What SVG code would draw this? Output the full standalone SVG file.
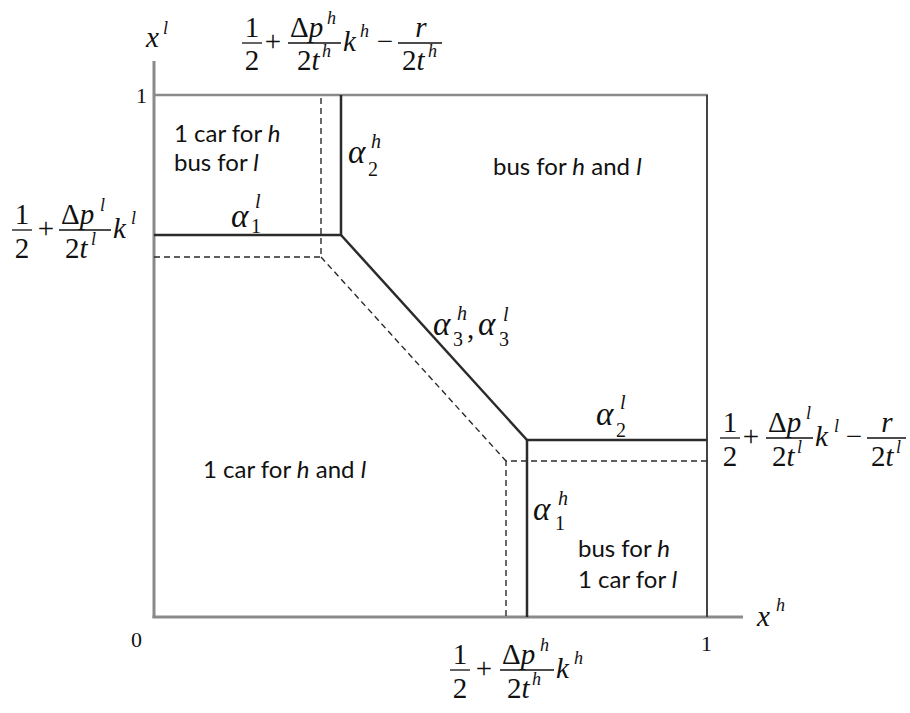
<svg xmlns="http://www.w3.org/2000/svg" width="910" height="713" viewBox="0 0 910 713">
<style>
.ax{stroke:#8a8a8a;stroke-width:3;fill:none}
.bx{stroke:#444;stroke-width:2;fill:none}
.bt{stroke:#8a8a8a;stroke-width:2.5;fill:none}
.sol{stroke:#2b2b2b;stroke-width:2.5;fill:none}
.dsh{stroke:#2b2b2b;stroke-width:1.4;stroke-dasharray:6 4;fill:none}
.fb{stroke:#111;stroke-width:1.3}
.m{font-family:"Liberation Serif","Times New Roman",serif;font-size:29px;fill:#111}
.n{font-family:"Liberation Serif","Times New Roman",serif;font-size:22px;fill:#111}
.i{font-style:italic}
.s{font-size:18px}
.a{font-family:"Liberation Serif","Times New Roman",serif;font-style:italic;font-size:33px;fill:#111}
.as{font-family:"Liberation Serif","Times New Roman",serif;font-size:20px;fill:#111}
.t{font-family:Lato,"Liberation Sans",sans-serif;font-size:24px;fill:#111}
.c{text-anchor:middle}
</style>
<rect width="910" height="713" fill="#fff"/>
<g id="axes">
<line class="ax" x1="154" y1="61" x2="154" y2="618"/>
<line class="ax" x1="152.5" y1="617" x2="743" y2="617"/>
<line class="bt" x1="154" y1="95" x2="708" y2="95"/>
<line class="bx" x1="707" y1="95" x2="707" y2="617"/>
</g>
<g id="connectors">
<polyline class="sol" points="154,235 341,235 341,95"/>
<line class="sol" x1="341" y1="235" x2="527" y2="440"/>
<polyline class="sol" points="707,440 527,440 527,617"/>
<polyline class="dsh" points="154,257 321,257 321,95"/>
<line class="dsh" x1="321" y1="257" x2="506" y2="461"/>
<polyline class="dsh" points="707,461 506,461 506,617"/>
</g>
<g id="axis-labels">
<text class="m i" x="146" y="47">x</text><text class="m i s" x="163" y="34">l</text>
<text class="m i" x="757" y="626">x</text><text class="m i s" x="776" y="611">h</text>
<text class="n" x="136" y="103">1</text>
<text class="n" x="131" y="647">0</text>
<text class="n" x="701" y="651">1</text>
</g>
<g id="region-top-left">
<text class="t" x="174" y="142">1 car for <tspan font-style="italic">h</tspan></text>
<text class="t" x="174" y="171">bus for <tspan font-style="italic">l</tspan></text>
</g>
<g id="region-top-right">
<text class="t" x="493" y="175">bus for <tspan font-style="italic">h</tspan> and <tspan font-style="italic">l</tspan></text>
</g>
<g id="region-bottom-left">
<text class="t" x="203" y="478">1 car for <tspan font-style="italic">h</tspan> and <tspan font-style="italic">l</tspan></text>
</g>
<g id="region-bottom-right">
<text class="t" x="578" y="557">bus for <tspan font-style="italic">h</tspan></text>
<text class="t" x="578" y="588">1 car for <tspan font-style="italic">l</tspan></text>
</g>
<g id="alpha-1-l"><text class="a" x="231" y="227">α</text><text class="as i" x="255" y="208">l</text><text class="as" x="251" y="233">1</text></g>
<g id="alpha-2-h"><text class="a" x="348" y="163">α</text><text class="as i" x="371" y="148">h</text><text class="as" x="368" y="176">2</text></g>
<g id="alpha-3"><text class="a" x="433" y="335">α</text><text class="as i" x="457" y="320">h</text><text class="as" x="453" y="346">3</text><text class="m" x="467" y="338">,</text><text class="a" x="478" y="335">α</text><text class="as i" x="503" y="321">l</text><text class="as" x="499" y="346">3</text></g>
<g id="alpha-2-l"><text class="a" x="596" y="425">α</text><text class="as i" x="620" y="409">l</text><text class="as" x="616" y="437">2</text></g>
<g id="alpha-1-h"><text class="a" x="533" y="520">α</text><text class="as i" x="558" y="505">h</text><text class="as" x="555" y="530">1</text></g>
<g id="formula-top">
<text class="m c" x="252" y="37">1</text><line class="fb" x1="242" y1="43" x2="262" y2="43"/><text class="m c" x="252" y="70">2</text>
<text class="m c" x="273" y="51">+</text>
<text class="m" x="290" y="37">Δ<tspan class="i">p</tspan></text><text class="m i s" x="327" y="24">h</text>
<line class="fb" x1="288" y1="43" x2="341" y2="43"/>
<text class="m" x="297" y="70">2<tspan class="i">t</tspan></text><text class="m i s" x="322" y="57">h</text>
<text class="m i" x="343" y="51">k</text><text class="m i s" x="360" y="37">h</text>
<text class="m c" x="385" y="51">−</text>
<text class="m i c" x="421" y="37">r</text><line class="fb" x1="398" y1="43" x2="442" y2="43"/>
<text class="m" x="402" y="70">2<tspan class="i">t</tspan></text><text class="m i s" x="428" y="57">h</text>
</g>
<g id="formula-left">
<text class="m c" x="22" y="224">1</text><line class="fb" x1="12" y1="230" x2="32" y2="230"/><text class="m c" x="22" y="258">2</text>
<text class="m c" x="46" y="238">+</text>
<text class="m" x="61" y="224">Δ<tspan class="i">p</tspan></text><text class="m i s" x="100" y="211">l</text>
<line class="fb" x1="59" y1="230" x2="111" y2="230"/>
<text class="m" x="65" y="258">2<tspan class="i">t</tspan></text><text class="m i s" x="91" y="245">l</text>
<text class="m i" x="113" y="238">k</text><text class="m i s" x="131" y="224">l</text>
</g>
<g id="formula-right">
<text class="m c" x="730" y="432">1</text><line class="fb" x1="720" y1="438" x2="740" y2="438"/><text class="m c" x="730" y="466">2</text>
<text class="m c" x="751" y="446">+</text>
<text class="m" x="768" y="432">Δ<tspan class="i">p</tspan></text><text class="m i s" x="806" y="419">l</text>
<line class="fb" x1="766" y1="438" x2="813" y2="438"/>
<text class="m" x="772" y="466">2<tspan class="i">t</tspan></text><text class="m i s" x="797" y="453">l</text>
<text class="m i" x="815" y="446">k</text><text class="m i s" x="834" y="432">l</text>
<text class="m c" x="854" y="446">−</text>
<text class="m i c" x="887" y="432">r</text><line class="fb" x1="867" y1="438" x2="906" y2="438"/>
<text class="m" x="871" y="466">2<tspan class="i">t</tspan></text><text class="m i s" x="896" y="453">l</text>
</g>
<g id="formula-bottom">
<text class="m c" x="460" y="664">1</text><line class="fb" x1="450" y1="670" x2="470" y2="670"/><text class="m c" x="460" y="698">2</text>
<text class="m c" x="484" y="678">+</text>
<text class="m" x="502" y="664">Δ<tspan class="i">p</tspan></text><text class="m i s" x="540" y="651">h</text>
<line class="fb" x1="500" y1="670" x2="554" y2="670"/>
<text class="m" x="507" y="698">2<tspan class="i">t</tspan></text><text class="m i s" x="532" y="685">h</text>
<text class="m i" x="556" y="678">k</text><text class="m i s" x="574" y="664">h</text>
</g>
</svg>
